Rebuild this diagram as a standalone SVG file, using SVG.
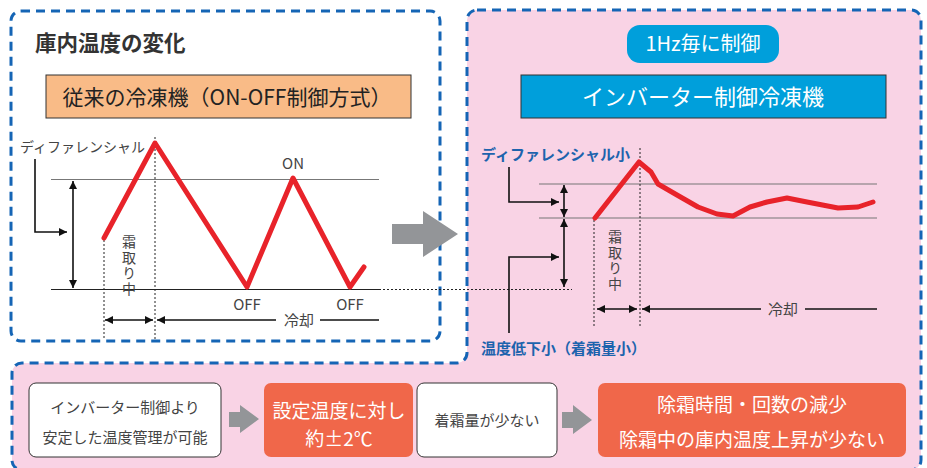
<svg xmlns="http://www.w3.org/2000/svg" width="927" height="468" viewBox="0 0 927 468">
<defs>
<style>
text{font-family:"Noto Sans CJK JP","Noto Sans",sans-serif;}
.dashb{fill:none;stroke:#1565b5;stroke-width:3;stroke-dasharray:9,6;}
.grid{stroke:#777;stroke-width:1.2;}
.gridk{stroke:#222;stroke-width:1.2;}
.dot{stroke:#222;stroke-width:1;stroke-dasharray:2,2;fill:none;}
.arr{stroke:#111;stroke-width:1.6;fill:none;}
.red{fill:none;stroke:#e8232a;stroke-width:5;stroke-linecap:round;stroke-linejoin:round;}
.lbl{font-size:15px;fill:#444;}
.vert{font-size:14px;fill:#444;writing-mode:vertical-rl;letter-spacing:1.5px;}
.wt{fill:#fff;}
.blu{font-size:15px;font-weight:bold;fill:#1d63ad;}
.gar{fill:#939598;}
.wbox{fill:#fff;stroke:#333;stroke-width:1;}
.obox{fill:#f0674a;}
</style>
<marker id="ah" viewBox="0 0 10 10" refX="10" refY="5" markerWidth="9" markerHeight="8" markerUnits="userSpaceOnUse" orient="auto-start-reverse">
<path d="M0,0 L10,5 L0,10 z" fill="#111"/>
</marker>
</defs>

<!-- backgrounds -->
<g id="pink-panel">
<path d="M477,10 H911 A10,10 0 0 1 921,20 V460 A10,10 0 0 1 911,470 H22 A10,10 0 0 1 12,460 V373 A10,10 0 0 1 22,363 H457 A10,10 0 0 0 467,353 V20 A10,10 0 0 1 477,10 Z" fill="#f9d3e5"/>
<path d="M477,10 H911 A10,10 0 0 1 921,20 V460 A10,10 0 0 1 911,470 H22 A10,10 0 0 1 12,460 V373 A10,10 0 0 1 22,363 H457 A10,10 0 0 0 467,353 V20 A10,10 0 0 1 477,10 Z" class="dashb"/>
</g>
<g id="left-panel">
<rect x="11" y="11" width="429" height="330" rx="10" fill="#fff"/>
<rect x="11" y="11" width="429" height="330" rx="10" class="dashb"/>
</g>

<g id="title">
<text x="35" y="51" font-size="21.5" font-weight="bold" fill="#333">庫内温度の変化</text>
</g>
<g id="conventional-box">
<rect x="46" y="75" width="365" height="43" fill="#f9bb87" stroke="#333" stroke-width="1"/>
<text x="227" y="105" font-size="21" text-anchor="middle" fill="#222">従来の冷凍機（ON-OFF制御方式）</text>
</g>

<g id="inverter-pill">
<rect x="627" y="25" width="152" height="38" rx="13" fill="#009fdb"/>
<text x="703" y="51" font-size="20" text-anchor="middle" class="wt">1Hz毎に制御</text>
</g>
<g id="inverter-box">
<rect x="521" y="75" width="365" height="43" fill="#009fdb" stroke="#333" stroke-width="1"/>
<text x="703" y="105" font-size="22" text-anchor="middle" class="wt">インバーター制御冷凍機</text>
</g>

<!-- left graph -->
<g id="left-graph">
<line x1="51" y1="179.5" x2="379" y2="179.5" class="grid"/>
<line x1="51" y1="289.5" x2="379" y2="289.5" class="gridk"/>
<line x1="155" y1="137" x2="155" y2="340" class="dot"/>
<line x1="104" y1="240" x2="104" y2="340" class="dot"/>
<polyline class="red" points="104,238 155,143 247,287 293,178 350,287 364,267"/>
<text x="20" y="152" font-size="14" fill="#444">ディファレンシャル</text>
<text x="293" y="169" text-anchor="middle" class="lbl" font-size="17">ON</text>
<text x="247" y="310" text-anchor="middle" class="lbl" font-size="17">OFF</text>
<text x="350" y="310" text-anchor="middle" class="lbl" font-size="17">OFF</text>
<text x="129" y="235" class="vert">霜取り中</text>
<text x="299" y="326" text-anchor="middle" class="lbl" font-size="16">冷却</text>
</g>

<!-- right graph -->
<g id="right-graph">
<line x1="539" y1="184" x2="877" y2="184" class="grid"/>
<line x1="539" y1="218" x2="877" y2="218" class="grid"/>
<line x1="640" y1="148" x2="640" y2="327" class="dot"/>
<line x1="594" y1="220" x2="594" y2="327" class="dot"/>
<polyline class="red" points="595,218 639,162 651,172 658,184 677,195 698,207 717,214 733,216 750,207 767,202 787,198 807,202 838,208 858,207 873,202"/>
<text x="481" y="160" class="blu">ディファレンシャル小</text>
<text x="615" y="230" class="vert">霜取り中</text>
<text x="783" y="315" text-anchor="middle" class="lbl" font-size="16">冷却</text>
<text x="481" y="354" class="blu" font-size="17">温度低下小（着霜量小）</text>
</g>

<!-- connectors -->
<g id="connectors">
<line x1="379" y1="289.5" x2="572" y2="289.5" class="dot"/>
<line x1="73" y1="181" x2="73" y2="288" class="arr" marker-start="url(#ah)" marker-end="url(#ah)"/>
<path d="M35,159 V232 H67" class="arr" marker-end="url(#ah)"/>
<line x1="105" y1="320" x2="153" y2="320" class="arr" marker-start="url(#ah)" marker-end="url(#ah)"/>
<line x1="157" y1="320" x2="276" y2="320" class="arr" marker-start="url(#ah)"/>
<line x1="320" y1="320" x2="379" y2="320" class="arr"/>
<line x1="564" y1="185" x2="564" y2="217" class="arr" marker-start="url(#ah)" marker-end="url(#ah)"/>
<line x1="564" y1="219" x2="564" y2="287" class="arr" marker-start="url(#ah)" marker-end="url(#ah)"/>
<path d="M509,167 V202 H559" class="arr" marker-end="url(#ah)"/>
<path d="M509,333 V257 H559" class="arr" marker-end="url(#ah)"/>
<line x1="597" y1="309" x2="637" y2="309" class="arr" marker-start="url(#ah)" marker-end="url(#ah)"/>
<line x1="642" y1="309" x2="761" y2="309" class="arr" marker-start="url(#ah)"/>
<line x1="805" y1="309" x2="877" y2="309" class="arr"/>
<polygon class="gar" points="392,224 423,224 423,211 458,234 423,257 423,244 392,244"/>
<polygon class="gar" points="229,412 240,412 240,405 259,419 240,433 240,427 229,427"/>
<polygon class="gar" points="562,412 573,412 573,405 592,420 573,434 573,428 562,428"/>
</g>

<!-- bottom boxes -->
<g id="box-stable">
<rect x="29" y="383" width="192" height="74" rx="7" class="wbox"/>
<text x="125" y="413" text-anchor="middle" class="lbl" font-size="15.5">インバーター制御より</text>
<text x="125" y="443" text-anchor="middle" class="lbl" font-size="15.5">安定した温度管理が可能</text>
</g>
<g id="box-2c">
<rect x="264" y="383" width="149" height="74" rx="7" class="obox"/>
<text x="339" y="418" text-anchor="middle" font-size="19" class="wt">設定温度に対し</text>
<text x="339" y="446" text-anchor="middle" font-size="19" class="wt">約±2℃</text>
</g>
<g id="box-frost">
<rect x="417" y="383" width="140" height="74" rx="7" class="wbox"/>
<text x="487" y="426" text-anchor="middle" class="lbl" font-size="16">着霜量が少ない</text>
</g>
<g id="box-defrost">
<rect x="598" y="383" width="308" height="74" rx="7" class="obox"/>
<text x="752" y="412" text-anchor="middle" font-size="19" class="wt">除霜時間・回数の減少</text>
<text x="752" y="447" text-anchor="middle" font-size="19" class="wt">除霜中の庫内温度上昇が少ない</text>
</g>
</svg>
